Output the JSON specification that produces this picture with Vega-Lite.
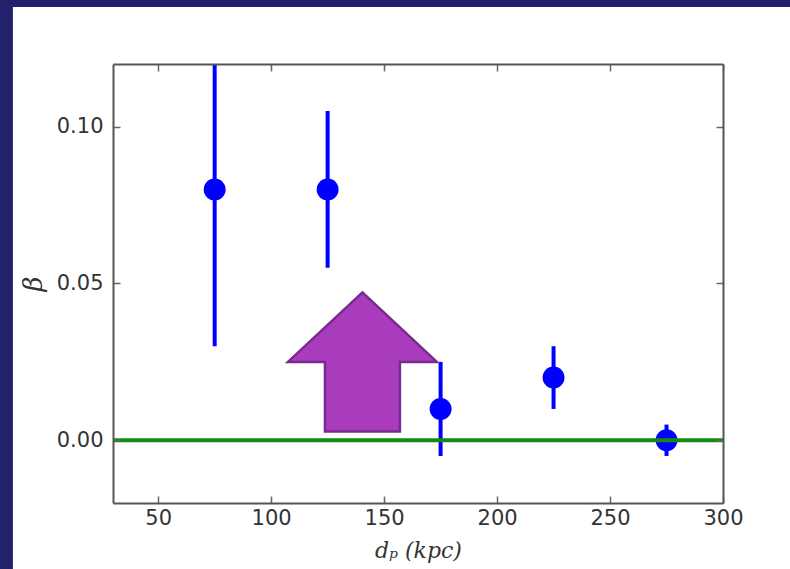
{
  "$schema": "https://vega.github.io/schema/vega-lite/v6.json",
  "width": 610,
  "height": 439,
  "autosize": "none",
  "padding": {"left": 113, "top": 64, "right": 67, "bottom": 66},
  "background": "#22226c",
  "config": {
    "view": {"stroke": null},
    "axis": {
      "domainColor": "#555555",
      "domainWidth": 2,
      "tickColor": "#666666",
      "tickWidth": 1.5,
      "tickSize": -7,
      "grid": false,
      "labelFont": "DejaVu Sans",
      "labelFontSize": 21,
      "labelColor": "#333333",
      "labelFlush": false,
      "labelOverlap": false,
      "titleFont": "DejaVu Serif",
      "titleFontStyle": "italic",
      "titleFontWeight": "normal",
      "titleFontSize": 22,
      "titleColor": "#333333"
    }
  },
  "datasets": {
    "beta": [
      {"d": 75, "beta": 0.08, "lo": 0.03, "hi": 0.13},
      {"d": 125, "beta": 0.08, "lo": 0.055, "hi": 0.105},
      {"d": 175, "beta": 0.01, "lo": -0.005, "hi": 0.025},
      {"d": 225, "beta": 0.02, "lo": 0.01, "hi": 0.03},
      {"d": 275, "beta": 0.0, "lo": -0.005, "hi": 0.005}
    ]
  },
  "layer": [
    {
      "data": {"values": [{}]},
      "mark": {"type": "rect", "clip": false, "color": "#ffffff"},
      "encoding": {
        "x": {"datum": -14.3, "type": "quantitative", "scale": {"domain": [30, 300], "nice": false, "zero": false}, "axis": null},
        "x2": {"datum": 350},
        "y": {"datum": 0.1382, "type": "quantitative", "scale": {"domain": [-0.02, 0.12], "nice": false, "zero": false}, "axis": null},
        "y2": {"datum": -0.06}
      }
    },
    {
      "data": {"name": "beta"},
      "mark": {"type": "rule", "color": "#0000ff", "strokeWidth": 4, "clip": true},
      "encoding": {
        "x": {
          "field": "d", "type": "quantitative",
          "scale": {"domain": [30, 300], "nice": false, "zero": false},
          "axis": {"orient": "bottom", "zindex": 2, "values": [50, 100, 150, 200, 250, 300], "format": "d", "title": "dₚ (kpc)", "labelPadding": 11, "titlePadding": 12}
        },
        "y": {
          "field": "lo", "type": "quantitative",
          "scale": {"domain": [-0.02, 0.12], "nice": false, "zero": false},
          "axis": {"orient": "left", "zindex": 2, "values": [0, 0.05, 0.1], "format": ".2f", "title": "β", "titleFontSize": 26, "labelPadding": 17, "titlePadding": 10}
        },
        "y2": {"field": "hi"}
      }
    },
    {
      "data": {"name": "beta"},
      "mark": {"type": "circle", "color": "#0000ff", "size": 480, "opacity": 1},
      "encoding": {
        "x": {
          "field": "d", "type": "quantitative",
          "scale": {"domain": [30, 300], "nice": false, "zero": false},
          "axis": {"orient": "top", "zindex": 2, "values": [50, 100, 150, 200, 250, 300], "labels": false, "title": null}
        },
        "y": {
          "field": "beta", "type": "quantitative",
          "scale": {"domain": [-0.02, 0.12], "nice": false, "zero": false},
          "axis": {"orient": "right", "zindex": 2, "values": [0, 0.05, 0.1], "labels": false, "title": null}
        }
      }
    },
    {
      "data": {"values": [{}]},
      "mark": {"type": "rule", "color": "#138a13", "strokeWidth": 4},
      "encoding": {
        "y": {"datum": 0, "type": "quantitative", "scale": {"domain": [-0.02, 0.12], "nice": false, "zero": false}, "axis": null}
      }
    },
    {
      "data": {"values": [{}]},
      "mark": {
        "type": "point",
        "shape": "M 0 -0.933 L 1 0 L 0.503 0 L 0.503 0.933 L -0.503 0.933 L -0.503 0 L -1 0 Z",
        "size": 22201,
        "filled": true,
        "fill": "#a83cbc",
        "stroke": "#7a2a8e",
        "strokeWidth": 2.5,
        "opacity": 1,
        "fillOpacity": 1,
        "strokeOpacity": 1
      },
      "encoding": {
        "x": {"datum": 140.4, "type": "quantitative", "scale": {"domain": [30, 300], "nice": false, "zero": false}, "axis": null},
        "y": {"datum": 0.025, "type": "quantitative", "scale": {"domain": [-0.02, 0.12], "nice": false, "zero": false}, "axis": null}
      }
    }
  ],
  "resolve": {"axis": {"x": "independent", "y": "independent"}}
}
